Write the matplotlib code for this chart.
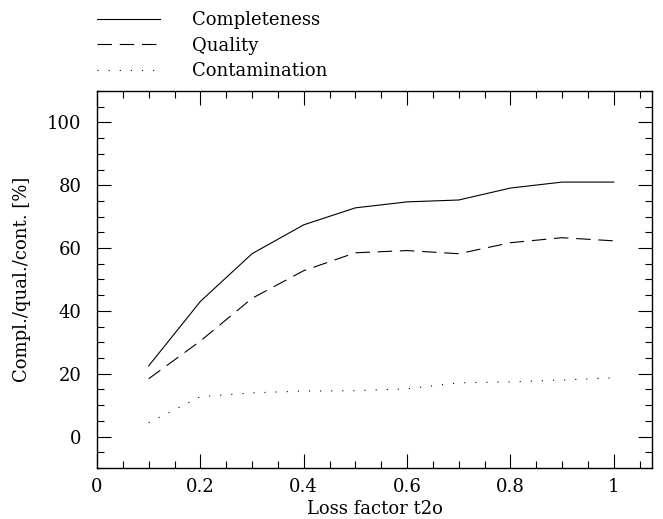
import matplotlib
matplotlib.use('Agg')
import matplotlib.pyplot as plt
from matplotlib.ticker import MultipleLocator

loss = [0.1, 0.2, 0.3, 0.4, 0.5, 0.6, 0.7, 0.8, 0.9, 1.0]
completeness = [22.5, 43.0, 58.2, 67.4, 72.8, 74.7, 75.3, 79.1, 81.0, 81.0]
quality = [18.4, 30.4, 44.0, 52.8, 58.5, 59.2, 58.2, 61.7, 63.3, 62.3]
contamination = [4.4, 12.7, 13.9, 14.5, 14.6, 15.2, 17.1, 17.4, 18.0, 18.7]

plt.rcParams['font.family'] = 'DejaVu Serif'
plt.rcParams['font.size'] = 13

fig = plt.figure(figsize=(6.63, 5.19), dpi=100)
ax = fig.add_axes([0.1463, 0.0983, 0.8371, 0.7264])

lw = 0.8
l1, = ax.plot(loss, completeness, color='black', lw=lw, ls='-', label='Completeness')
l2, = ax.plot(loss, quality, color='black', lw=lw, ls=(0, (13, 7)), label='Quality')
l3, = ax.plot(loss, contamination, color='black', lw=lw, ls=(0, (1, 9)), label='Contamination')

ax.set_xlim(0, 1.074)
ax.set_ylim(-10, 110)
ax.xaxis.set_major_locator(MultipleLocator(0.2))
ax.xaxis.set_minor_locator(MultipleLocator(0.05))
ax.yaxis.set_major_locator(MultipleLocator(20))
ax.yaxis.set_minor_locator(MultipleLocator(5))
ax.xaxis.set_major_formatter(plt.FuncFormatter(lambda v, p: ('%g' % round(v, 2))))
ax.tick_params(which='both', direction='in', top=True, right=True, width=0.8)
ax.tick_params(which='major', length=10)
ax.tick_params(axis='x', which='major', pad=7)
ax.tick_params(axis='y', which='major', pad=11)
ax.tick_params(which='minor', length=5)
for s in ax.spines.values():
    s.set_linewidth(1.0)

ax.set_xlabel('Loss factor t2o', labelpad=3)
ax.set_ylabel('Compl./qual./cont. [%]', labelpad=12)

fig.legend(handles=[l1, l2, l3], loc='upper left', bbox_to_anchor=(0.1463, 0.978),
           frameon=False, handlelength=3.5, handletextpad=1.75, labelspacing=0.4,
           borderpad=0, borderaxespad=0)

fig.savefig('out.png', dpi=100)
